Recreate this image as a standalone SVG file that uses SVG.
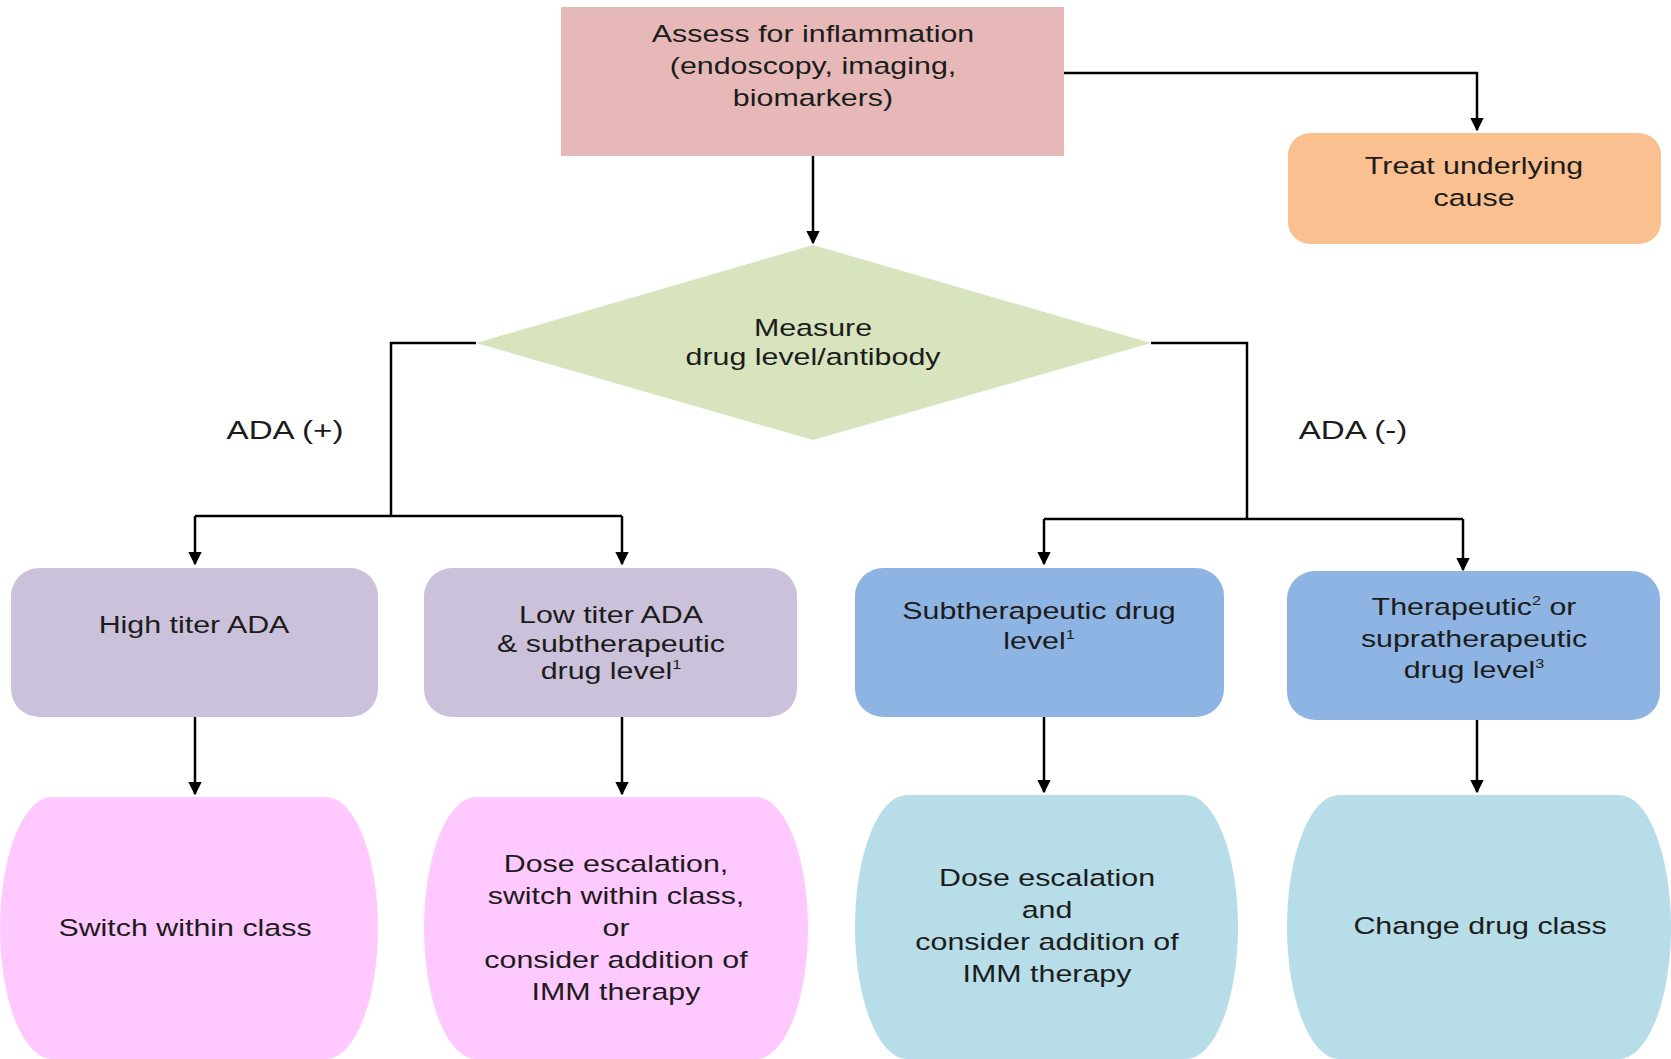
<svg xmlns="http://www.w3.org/2000/svg" width="1671" height="1059" viewBox="0 0 1671 1059">
  <style>
    text { font-family: "Liberation Sans", Arial, sans-serif; font-size: 24.3px; fill: #1c1c1c; text-anchor: middle; }
    .sup { font-size: 13px; }
    .label { font-size: 26.5px; }
    .wire { fill: none; stroke: #000; stroke-width: 2.5; }
  </style>
  <defs>
    <marker id="arrow" viewBox="0 0 10 10" refX="9" refY="5" markerWidth="5.5" markerHeight="5.5" orient="auto" markerUnits="strokeWidth">
      <path d="M0,0 L10,5 L0,10 z" fill="#000"/>
    </marker>
  </defs>
  <rect width="1671" height="1059" fill="#fff"/>

  <!-- connectors -->
  <g id="connectors">
    <path class="wire" d="M813,156 V243" marker-end="url(#arrow)"/>
    <path class="wire" d="M1064,73 H1477 V130" marker-end="url(#arrow)"/>
    <path class="wire" d="M476,343 H391 V516"/>
    <path class="wire" d="M195,516 H622"/>
    <path class="wire" d="M195,516 V564" marker-end="url(#arrow)"/>
    <path class="wire" d="M622,516 V564" marker-end="url(#arrow)"/>
    <path class="wire" d="M1151,343 H1247 V519"/>
    <path class="wire" d="M1044,519 H1463"/>
    <path class="wire" d="M1044,519 V564" marker-end="url(#arrow)"/>
    <path class="wire" d="M1463,519 V570" marker-end="url(#arrow)"/>
    <path class="wire" d="M195,717 V794" marker-end="url(#arrow)"/>
    <path class="wire" d="M622,714 V794" marker-end="url(#arrow)"/>
    <path class="wire" d="M1044,717 V792" marker-end="url(#arrow)"/>
    <path class="wire" d="M1477,720 V792" marker-end="url(#arrow)"/>
    <g transform="translate(285,0) scale(1.25,1)"><text class="label" x="0" y="439">ADA (+)</text></g>
    <g transform="translate(1353,0) scale(1.25,1)"><text class="label" x="0" y="439">ADA (-)</text></g>
  </g>

  <!-- assess -->
  <g id="assess">
    <rect x="561" y="7" width="503" height="149" fill="#E6B8B7"/>
    <g transform="translate(813,0) scale(1.25,1)">
      <text x="0" y="42">Assess for inflammation</text>
      <text x="0" y="74">(endoscopy, imaging,</text>
      <text x="0" y="106">biomarkers)</text>
    </g>
  </g>

  <!-- treat -->
  <g id="treat">
    <rect x="1288" y="133" width="373" height="111" rx="22" fill="#FAC090"/>
    <g transform="translate(1474,0) scale(1.25,1)">
      <text x="0" y="174">Treat underlying</text>
      <text x="0" y="206">cause</text>
    </g>
  </g>

  <!-- measure -->
  <g id="measure">
    <polygon points="813,245 1151,343 813,440 476,343" fill="#D7E4BD"/>
    <g transform="translate(813,0) scale(1.25,1)">
      <text x="0" y="336">Measure</text>
      <text x="0" y="365">drug level/antibody</text>
    </g>
  </g>

  <!-- row 2 -->
  <g id="high-titer">
    <rect x="11" y="568" width="367" height="149" rx="28" fill="#CCC1DA"/>
    <g transform="translate(194,0) scale(1.25,1)"><text x="0" y="633">High titer ADA</text></g>
  </g>
  <g id="low-titer">
    <rect x="424" y="568" width="373" height="149" rx="28" fill="#CCC1DA"/>
    <g transform="translate(611,0) scale(1.25,1)">
      <text x="0" y="623">Low titer ADA</text>
      <text x="0" y="652">&amp; subtherapeutic</text>
      <text x="0" y="679">drug level<tspan class="sup" dy="-10">1</tspan></text>
    </g>
  </g>
  <g id="subtherapeutic">
    <rect x="855" y="568" width="369" height="149" rx="28" fill="#8EB4E3"/>
    <g transform="translate(1039,0) scale(1.25,1)">
      <text x="0" y="619">Subtherapeutic drug</text>
      <text x="0" y="649">level<tspan class="sup" dy="-10">1</tspan></text>
    </g>
  </g>
  <g id="therapeutic">
    <rect x="1287" y="571" width="373" height="149" rx="28" fill="#8EB4E3"/>
    <g transform="translate(1474,0) scale(1.25,1)">
      <text x="0" y="615">Therapeutic<tspan class="sup" dy="-10">2</tspan><tspan dy="10"> or</tspan></text>
      <text x="0" y="647">supratherapeutic</text>
      <text x="0" y="678">drug level<tspan class="sup" dy="-10">3</tspan></text>
    </g>
  </g>

  <!-- row 3 -->
  <g id="switch-class">
    <path d="M52,797 H326 A52,131 0 0 1 326,1059 H52 A52,131 0 0 1 52,797 Z" fill="#FFC9FF"/>
    <g transform="translate(185,0) scale(1.25,1)"><text x="0" y="936">Switch within class</text></g>
  </g>
  <g id="dose-switch">
    <path d="M476,797 H756 A52,131 0 0 1 756,1059 H476 A52,131 0 0 1 476,797 Z" fill="#FFC9FF"/>
    <g transform="translate(616,0) scale(1.25,1)">
      <text x="0" y="872">Dose escalation,</text>
      <text x="0" y="904">switch within class,</text>
      <text x="0" y="936">or</text>
      <text x="0" y="968">consider addition of</text>
      <text x="0" y="1000">IMM therapy</text>
    </g>
  </g>
  <g id="dose-imm">
    <path d="M907,795 H1186 A52,132 0 0 1 1186,1059 H907 A52,132 0 0 1 907,795 Z" fill="#B7DDE8"/>
    <g transform="translate(1047,0) scale(1.25,1)">
      <text x="0" y="886">Dose escalation</text>
      <text x="0" y="918">and</text>
      <text x="0" y="950">consider addition of</text>
      <text x="0" y="982">IMM therapy</text>
    </g>
  </g>
  <g id="change-class">
    <path d="M1339,795 H1619 A52,132 0 0 1 1619,1059 H1339 A52,132 0 0 1 1339,795 Z" fill="#B7DDE8"/>
    <g transform="translate(1480,0) scale(1.25,1)"><text x="0" y="934">Change drug class</text></g>
  </g>
</svg>
